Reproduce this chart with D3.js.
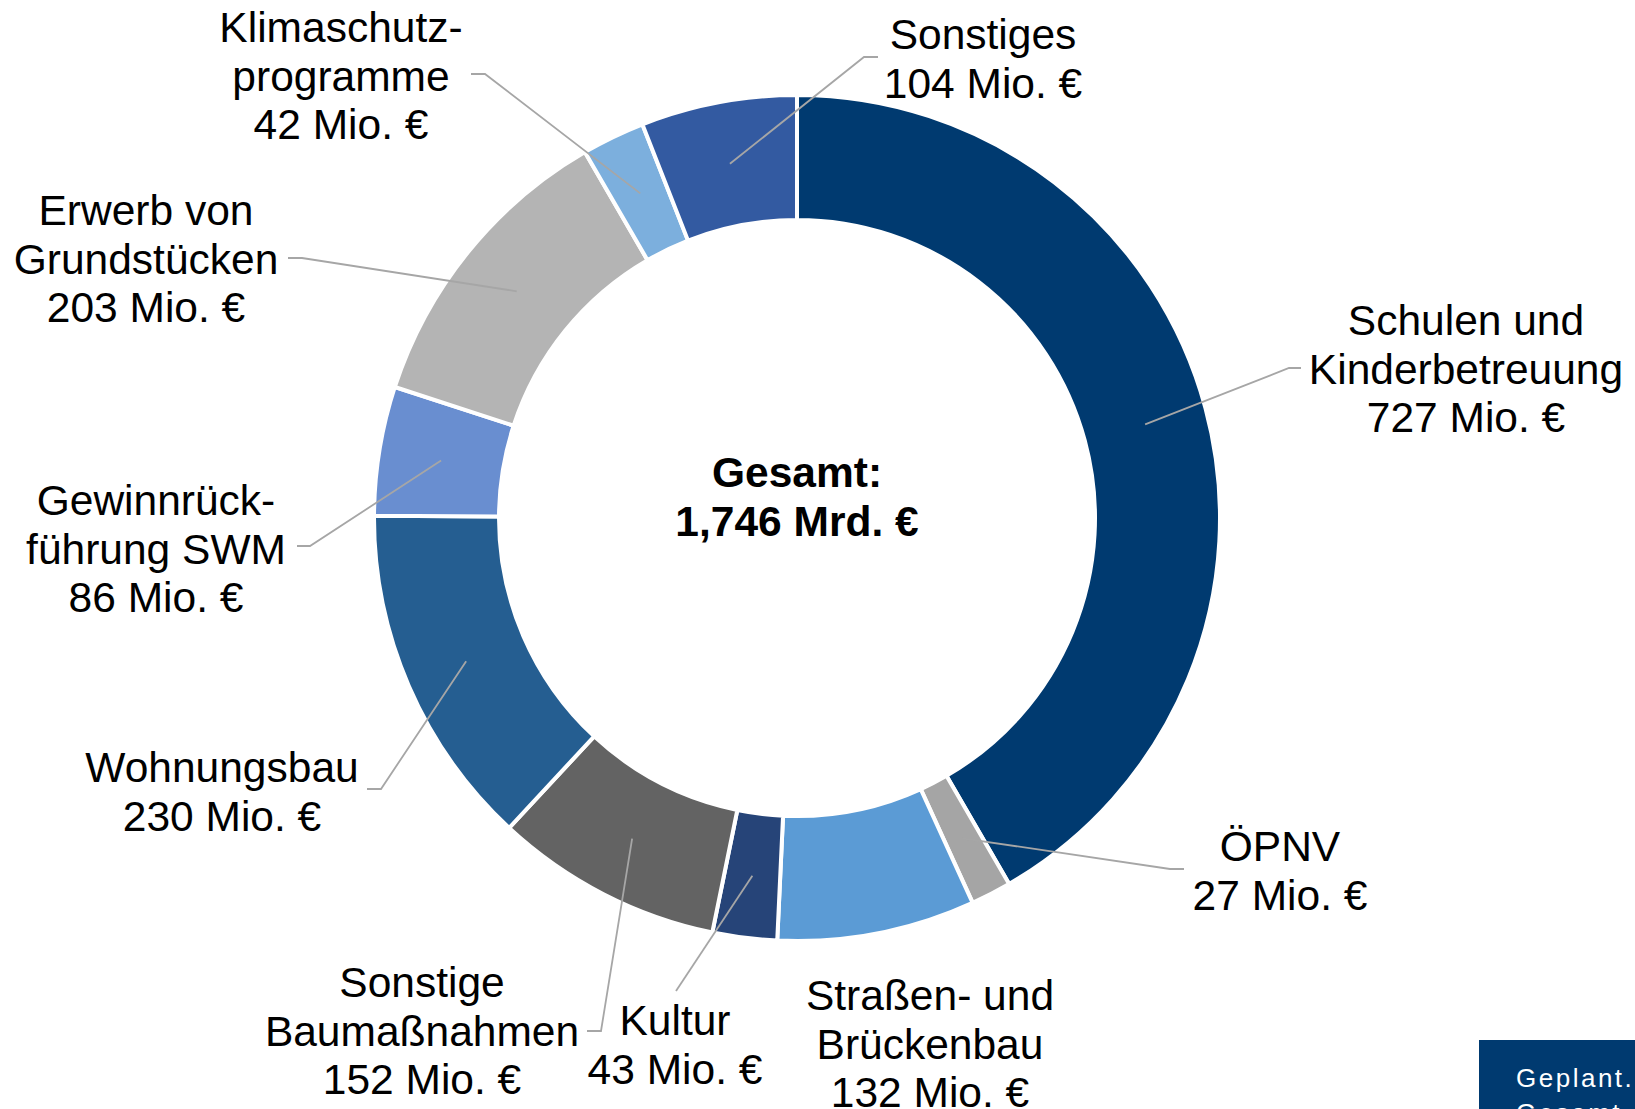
<!DOCTYPE html>
<html>
<head>
<meta charset="utf-8">
<script src="https://cdn.jsdelivr.net/npm/d3@7"></script>
<style>
  body { margin: 0; background: #fff; overflow: hidden; }
  svg { display: block; font-family: "Liberation Sans", Arial, sans-serif; }
</style>
</head>
<body>
<div id="wrapper"></div>
<script>
// data
const categories = [
  ["Schulen und", "Kinderbetreuung"],
  ["ÖPNV"],
  ["Straßen- und", "Brückenbau"],
  ["Kultur"],
  ["Sonstige", "Baumaßnahmen"],
  ["Wohnungsbau"],
  ["Gewinnrück-", "führung SWM"],
  ["Erwerb von", "Grundstücken"],
  ["Klimaschutz-", "programme"],
  ["Sonstiges"],
];
const values = [727, 27, 132, 43, 152, 230, 86, 203, 42, 104];
const totalLabel = ["Gesamt:", "1,746 Mrd. €"];

const colors = [
  "#003a70", "#a5a5a5", "#5b9bd5", "#264478", "#636363",
  "#255e91", "#698ed0", "#b4b4b4", "#7cafdd", "#335aa1",
];

// label placement: x, first baseline, leader points (label end, knee)
const labelLayout = [
  { x: 1466, y: 335, leader: [[1301, 368], [1289, 368]] },
  { x: 1280, y: 861, leader: [[1184, 869], [1170, 869]] },
  { x: 930, y: 1010, leader: null },
  { x: 675, y: 1035, leader: [[676, 991]] },
  { x: 422, y: 997, leader: [[587, 1031], [601, 1031]] },
  { x: 222, y: 782, leader: [[367, 789], [381, 789]] },
  { x: 156, y: 515, leader: [[297, 546], [310, 546]] },
  { x: 146, y: 225, leader: [[288, 258], [302, 258]] },
  { x: 341, y: 42, leader: [[471, 74], [485, 74]] },
  { x: 983, y: 49, leader: [[878, 57], [864, 57]] },
];

const width = 1635;
const height = 1109;
const center = { x: 797, y: 518 };
const outerR = 423;
const innerR = 298;
const lineH = 48.5;
const fontSize = 42.5;

const svg = d3.select("#wrapper")
  .append("svg")
  .attr("width", width)
  .attr("height", height);

const dataset = values.map((v, i) => ({ name: categories[i], value: v, i }));

const pie = d3.pie().sort(null).value(d => d.value);
const arcs = pie(dataset);

const arc = d3.arc().innerRadius(innerR).outerRadius(outerR);
const centroidArc = d3.arc().innerRadius(300).outerRadius(421);

const ring = svg.append("g")
  .attr("transform", `translate(${center.x},${center.y})`);

ring.selectAll("path")
  .data(arcs)
  .join("path")
  .attr("d", arc)
  .attr("fill", d => colors[d.data.i])
  .attr("stroke", "#fff")
  .attr("stroke-width", 4)
  .attr("stroke-linejoin", "miter");

// leader lines
const line = d3.line();
svg.append("g")
  .selectAll("path")
  .data(arcs.filter(d => labelLayout[d.data.i].leader))
  .join("path")
  .attr("d", d => {
    const c = centroidArc.centroid(d);
    const pts = labelLayout[d.data.i].leader.concat([[c[0] + center.x, c[1] + center.y]]);
    return line(pts);
  })
  .attr("fill", "none")
  .attr("stroke", "#a6a6a6")
  .attr("stroke-width", 1.8);

// labels
const labels = svg.append("g")
  .selectAll("text")
  .data(dataset)
  .join("text")
  .attr("text-anchor", "middle")
  .attr("font-size", fontSize)
  .attr("fill", "#000");

labels.each(function (d) {
  const pos = labelLayout[d.i];
  const lines = d.name.concat([`${d.value} Mio. €`]);
  d3.select(this).selectAll("tspan")
    .data(lines)
    .join("tspan")
    .attr("x", pos.x)
    .attr("y", (t, k) => pos.y + k * lineH)
    .text(t => t);
});

// center total
svg.append("text")
  .attr("text-anchor", "middle")
  .attr("font-size", fontSize)
  .attr("font-weight", "bold")
  .selectAll("tspan")
  .data(totalLabel)
  .join("tspan")
  .attr("x", center.x)
  .attr("y", (t, k) => 487 + k * 49)
  .text(t => t);

// corner box
svg.append("rect")
  .attr("x", 1479)
  .attr("y", 1040)
  .attr("width", width - 1479)
  .attr("height", height - 1040)
  .attr("fill", "#003a70");

svg.append("text")
  .attr("fill", "#fff")
  .attr("font-size", 26)
  .attr("letter-spacing", 2.5)
  .selectAll("tspan")
  .data(["Geplant.", "Gesamt"])
  .join("tspan")
  .attr("x", 1516)
  .attr("y", (t, k) => 1087 + k * 35)
  .text(t => t);
</script>
</body>
</html>
